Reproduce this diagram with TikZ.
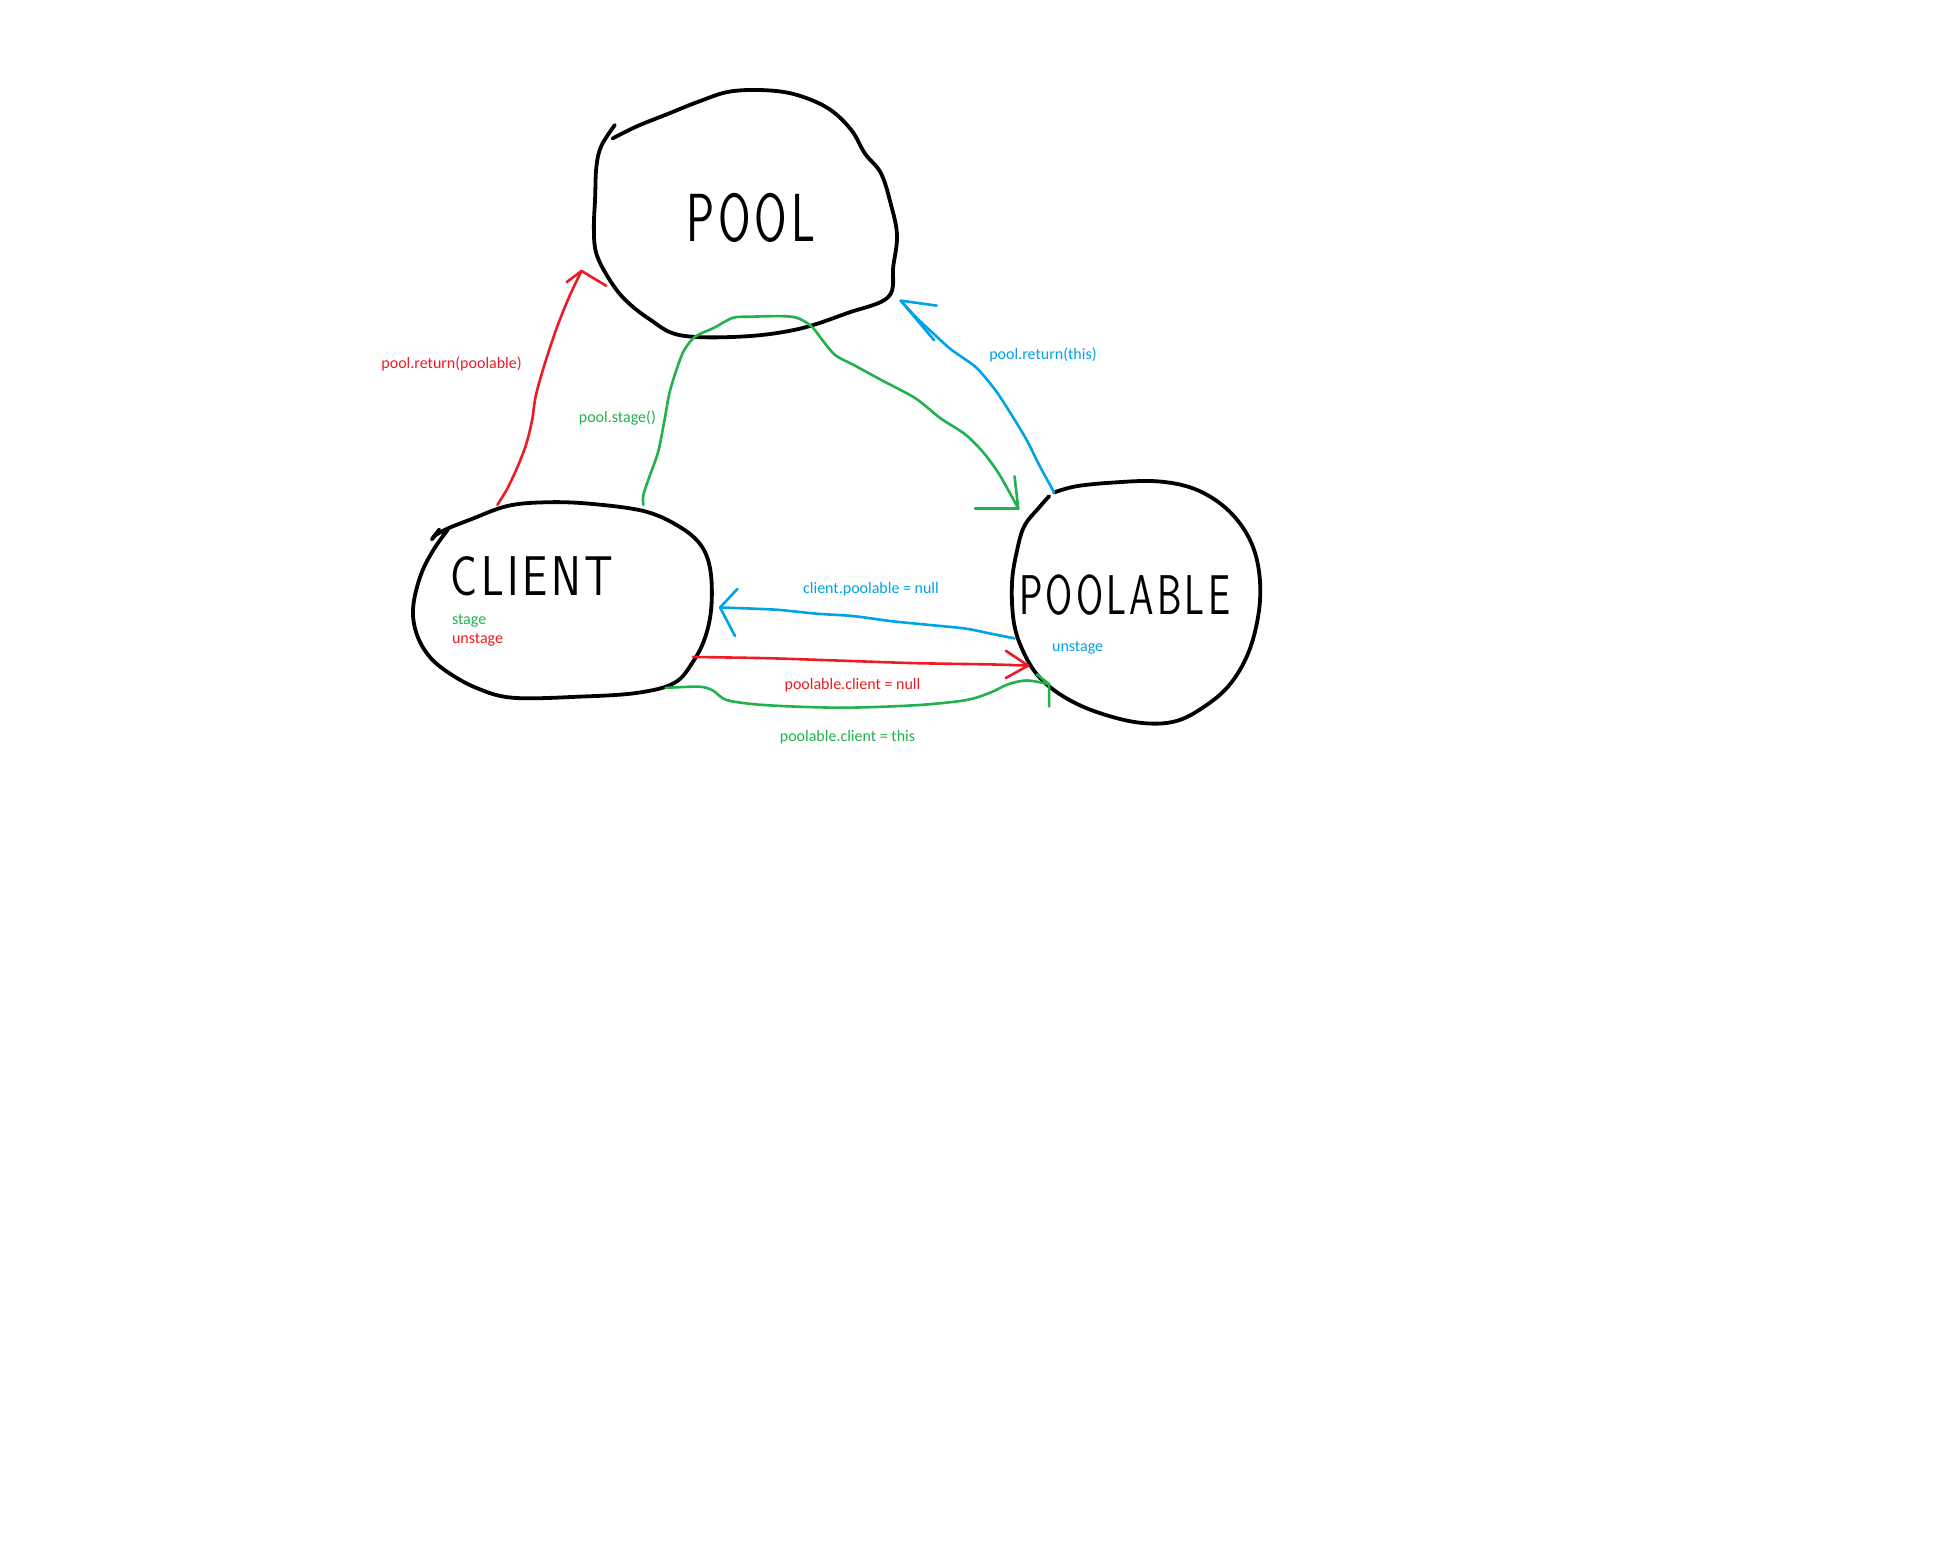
\documentclass[tikz,border=0pt]{standalone}
\usepackage{fontspec}
\setmainfont{Carlito}
\newfontfamily\handfont[LetterSpace=8]{Latin Modern Sans}
\definecolor{pred}{HTML}{ED1C24}
\definecolor{pgreen}{HTML}{22B14C}
\definecolor{pblue}{HTML}{00A2E8}
\begin{document}
\begin{tikzpicture}[x=0.6186pt,y=-0.6186pt,
  blob/.style={draw=black,line width=1.9pt,line join=round,line cap=round},
  conn/.style={line width=1.3pt,line join=round,line cap=round},
  lbl/.style={font=\fontsize{8}{9.6}\selectfont,inner sep=0pt},
  big/.style={font=\handfont\fontsize{28}{30}\selectfont,inner sep=0pt}]
\useasboundingbox[fill=white] (0,0) rectangle (1568,1254);
% blobs
\draw[blob] plot[smooth,tension=0.6] coordinates {(497,101) (486,118) (482,135) (481,160) (480,185) (482,205) (492,225) (505,242) (525,258) (550,271) (600,272) (645,266) (685,253) (718,240) (722,215) (725,190) (720,165) (712,140) (699,124) (688,105) (670,88) (645,77) (620,73) (590,74) (565,82) (540,92) (515,102) (495,112)};
\draw[blob] plot[smooth,tension=0.6] coordinates {(362,428) (350,445) (340,465) (334,490) (336,510) (345,528) (360,542) (385,556) (415,564) (470,563) (515,560) (545,552) (560,535) (570,515) (575,490) (574,460) (566,440) (548,425) (520,413) (475,407) (440,406) (410,409) (380,420) (360,428) (350,434)};
\draw[blob] (349,436) -- (355,428);
\draw[blob] plot[smooth,tension=0.6] coordinates {(848,401) (840,410) (828,425) (822,445) (818,470) (819,500) (825,522) (838,545) (858,562) (885,575) (920,584) (950,583) (975,570) (995,552) (1010,525) (1018,490) (1017,458) (1008,432) (990,410) (965,395) (935,389) (900,390) (870,393) (852,398)};
% big names
\node[big,font=\handfont\fontsize{34}{36}\selectfont,xscale=0.69] (pool) at (607,176) {POOL};
\node[big,xscale=0.80] (client) at (430,466) {CLIENT};
\node[big,xscale=0.70] (poolable) at (909,481) {POOLABLE};
% endpoints
\coordinate (cA) at (402,408);
\coordinate (pA) at (470,219);
\coordinate (cB) at (520,408);
\coordinate (qB) at (823,411);
\coordinate (qC) at (852,398);
\coordinate (pC) at (728,243);
\coordinate (qD) at (820,516);
\coordinate (cD) at (582,491);
\coordinate (cE) at (560,531);
\coordinate (qE) at (831,538);
\coordinate (cF) at (538,556);
\coordinate (qF) at (848,553);
% red pool.return(poolable)
\draw[conn,pred] plot[smooth,tension=0.5] coordinates {(cA) (410,395) (418,378) (425,360) (430,340) (433,320) (440,295) (450,265) (460,240) (pA)};
\draw[conn,pred] (458,228) -- (pA) -- (490,231);
% green pool.stage()
\draw[conn,pgreen] plot[smooth,tension=0.5] coordinates {(cB) (520,400) (525,385) (532,365) (537,340) (541,318) (547,298) (553,283) (562,272) (577,265) (592,257) (605,256) (640,256) (655,263) (664,274) (675,287) (690,295) (712,307) (740,322) (760,338) (780,351) (795,366) (808,384) (qB)};
\draw[conn,pgreen] (788,411) -- (qB) -- (820,385);
% blue pool.return(this)
\draw[conn,pblue] plot[smooth,tension=0.5] coordinates {(qC) (840,376) (830,356) (818,336) (805,316) (790,298) (778,289) (768,282) (757,272) (742,258) (pC)};
\draw[conn,pblue] (757,247) -- (pC) -- (755,275);
% blue client.poolable = null
\draw[conn,pblue] plot[smooth,tension=0.5] coordinates {(qD) (800,512) (780,508) (750,505) (720,502) (690,498) (660,496) (630,493) (610,492) (cD)};
\draw[conn,pblue] (596,476) -- (cD) -- (594,514);
% red poolable.client = null
\draw[conn,pred] plot[smooth,tension=0.5] coordinates {(cE) (620,532) (680,534) (740,536) (800,537) (qE)};
\draw[conn,pred] (813,526) -- (qE) -- (813,548);
% green poolable.client = this
\draw[conn,pgreen] plot[smooth,tension=0.5] coordinates {(cF) (565,555) (576,558) (588,566) (620,570) (680,572) (740,570) (780,566) (800,560) (815,553) (830,550) (qF)};
\draw[conn,pgreen] (838,545) -- (qF) -- (848,571);
% labels
\node[lbl,text=pred] (l1) at (365,294) {pool.return(poolable)};
\node[lbl,text=pgreen] (l2) at (499,338) {pool.stage()};
\node[lbl,text=pblue] (l3) at (843,287) {pool.return(this)};
\node[lbl,text=pblue] (l4) at (704,476) {client.poolable = null};
\node[lbl,text=pgreen,anchor=west] (l5) at (365,502) {stage};
\node[lbl,text=pred,anchor=west] (l6) at (365,517) {unstage};
\node[lbl,text=pblue] (l7) at (871,524) {unstage};
\node[lbl,text=pred] (l8) at (689,554) {poolable.client = null};
\node[lbl,text=pgreen] (l9) at (685,596) {poolable.client = this};
\end{tikzpicture}
\end{document}
